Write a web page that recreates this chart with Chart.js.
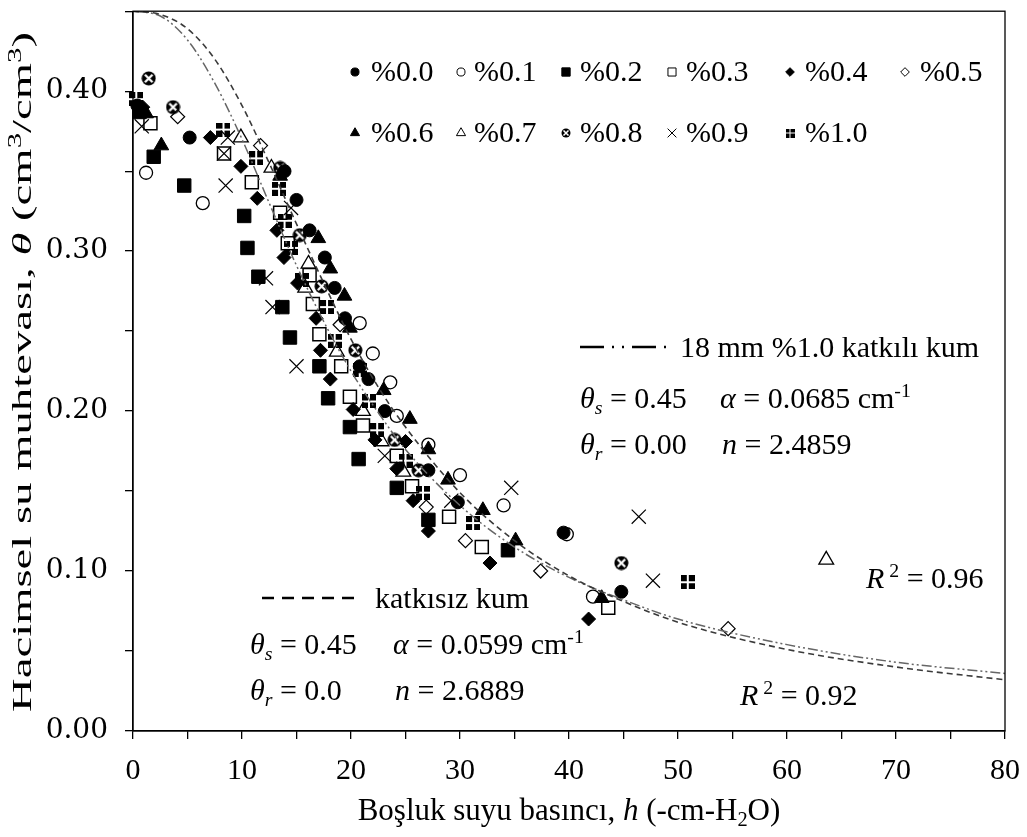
<!DOCTYPE html>
<html>
<head>
<meta charset="utf-8">
<script src="https://cdn.jsdelivr.net/npm/chart.js@4"></script>
<style>
  body { margin: 0; background: #fff; }
  .chart-container { width: 1027px; height: 837px; }
</style>
</head>
<body>
<div class="chart-container"><canvas id="myChart"></canvas></div>
<script>
// --- DATA (h in -cm-H2O, theta in cm3/cm3) ---
const seriesLabels = ['%0.0', '%0.1', '%0.2', '%0.3', '%0.4', '%0.5', '%0.6', '%0.7', '%0.8', '%0.9', '%1.0'];

const p00 = [[0.4,0.391],[5.2,0.371],[13.9,0.350],[15.0,0.332],[16.2,0.313],[17.6,0.296],[18.5,0.277],[19.45,0.258],[20.8,0.228],[21.6,0.220],[23.1,0.200],[27.1,0.163],[29.8,0.143],[39.5,0.124],[44.8,0.087]];
const p01 = [[1.2,0.349],[6.4,0.330],[20.8,0.255],[22.0,0.236],[23.6,0.218],[24.2,0.197],[27.1,0.179],[30.0,0.160],[34.0,0.141],[39.8,0.123],[42.2,0.084]];
const p02 = [[0.6,0.387],[1.9,0.359],[4.7,0.341],[10.2,0.322],[10.5,0.302],[11.5,0.284],[13.7,0.265],[14.4,0.246],[17.1,0.228],[17.9,0.208],[19.9,0.190],[20.7,0.170],[24.2,0.152],[27.1,0.132],[34.4,0.113]];
const p03 = [[1.6,0.380],[8.35,0.361],[10.9,0.343],[13.5,0.324],[14.2,0.305],[16.2,0.285],[16.5,0.267],[17.1,0.248],[19.1,0.228],[19.9,0.209],[21.1,0.191],[24.2,0.172],[25.6,0.153],[29.0,0.134],[32.0,0.115],[43.6,0.077]];
const p04 = [[0.9,0.390],[7.1,0.371],[9.9,0.353],[11.4,0.333],[13.2,0.313],[13.85,0.296],[15.1,0.280],[16.8,0.258],[17.2,0.238],[18.1,0.220],[20.2,0.201],[22.2,0.182],[25.0,0.181],[24.2,0.164],[25.7,0.144],[27.1,0.125],[32.75,0.105],[41.8,0.070]];
const p05 = [[4.1,0.384],[11.7,0.366],[19.0,0.254],[26.9,0.140],[30.5,0.119],[37.4,0.100],[54.6,0.064]];
const p06 = [[1.2,0.386],[2.6,0.366],[13.5,0.347],[17.0,0.308],[18.1,0.289],[19.4,0.272],[19.9,0.252],[23.0,0.213],[25.4,0.195],[27.1,0.176],[28.9,0.157],[32.1,0.138],[35.1,0.119],[43.0,0.083]];
const p07 = [[9.9,0.371],[12.7,0.352],[16.1,0.292],[15.8,0.277],[18.7,0.237],[21.1,0.200],[22.8,0.181],[24.8,0.162],[63.6,0.107]];
const p08 = [[1.44,0.408],[3.67,0.390],[13.5,0.352],[15.3,0.310],[17.3,0.278],[20.4,0.238],[24.0,0.182],[26.2,0.163],[44.8,0.105]];
const p09 = [[0.8,0.378],[8.7,0.371],[8.35,0.361],[8.5,0.341],[14.5,0.327],[12.2,0.283],[12.8,0.265],[15.0,0.228],[23.1,0.172],[29.2,0.144],[34.7,0.152],[46.4,0.134],[47.7,0.094]];
const p10 = [[0.3,0.395],[8.3,0.376],[11.3,0.358],[13.4,0.339],[13.9,0.319],[14.5,0.302],[15.5,0.282],[17.8,0.265],[18.5,0.244],[20.8,0.226],[21.65,0.206],[22.4,0.188],[25.0,0.169],[26.6,0.149],[31.2,0.130],[50.9,0.093]];

// fitted curves
const hCurve      = [0, 2.5, 5, 7.5, 10, 12.5, 15, 17.5, 20, 22.5, 25, 30, 35, 40, 45, 50, 60, 70, 80];
const thetaPlain  = [0.450, 0.448, 0.439, 0.420, 0.391, 0.355, 0.317, 0.280, 0.245, 0.215, 0.190, 0.149, 0.119, 0.097, 0.081, 0.068, 0.051, 0.040, 0.032];
const thetaFiber  = [0.450, 0.447, 0.432, 0.405, 0.370, 0.330, 0.291, 0.256, 0.225, 0.199, 0.176, 0.141, 0.115, 0.096, 0.082, 0.070, 0.054, 0.043, 0.036];

// --- MARKERS ---
function hatchCircle(size) {
    const c = document.createElement('canvas');
    c.width = c.height = size;
    const g = c.getContext('2d');
    const r = size / 2;
    g.fillStyle = '#000';
    g.beginPath(); g.arc(r, r, r - 0.5, 0, Math.PI * 2); g.fill();
    g.strokeStyle = '#fff';
    g.lineWidth = Math.max(1.2, size * 0.15);
    const a = size * 0.25, b = size * 0.75;
    g.beginPath(); g.moveTo(a, a); g.lineTo(b, b); g.moveTo(b, a); g.lineTo(a, b); g.stroke();
    g.fillStyle = '#fff';
    g.beginPath(); g.arc(r, r, size * 0.08, 0, Math.PI * 2); g.fill();
    return c;
}
function gridSquare(size) {
    const c = document.createElement('canvas');
    c.width = c.height = size;
    const g = c.getContext('2d');
    g.fillStyle = '#000';
    g.fillRect(0, 0, size, size);
    g.fillStyle = '#fff';
    const w = Math.max(1, Math.round(size * 0.14));
    const m = Math.round(size / 2 - w / 2);
    g.fillRect(m, 0, w, size);
    g.fillRect(0, m, size, w);
    return c;
}

const FILL = '#000', NONE = 'rgba(0,0,0,0)';
const styles = [
    { pointStyle: 'circle',    radius: 6.5, bg: FILL, bw: 1 },
    { pointStyle: 'circle',    radius: 6.5, bg: NONE, bw: 1.3 },
    { pointStyle: 'rect',      radius: 9.5, bg: FILL, bw: 1 },
    { pointStyle: 'rect',      radius: 9.2, bg: NONE, bw: 1.5 },
    { pointStyle: 'rectRot',   radius: 7,   bg: FILL, bw: 1 },
    { pointStyle: 'rectRot',   radius: 7,   bg: NONE, bw: 1.2 },
    { pointStyle: 'triangle',  radius: 8.5, bg: FILL, bw: 1 },
    { pointStyle: 'triangle',  radius: 8.5, bg: NONE, bw: 1.3 },
    { pointStyle: hatchCircle(15), radius: 7, bg: FILL, bw: 0 },
    { pointStyle: 'crossRot',  radius: 10,  bg: NONE, bw: 1.2 },
    { pointStyle: gridSquare(14), radius: 7, bg: FILL, bw: 0 }
];
const legendStyles = styles.map((s, i) => {
    if (i === 8) return { ...s, pointStyle: hatchCircle(10) };
    if (i === 10) return { ...s, pointStyle: gridSquare(9) };
    return { ...s, radius: s.radius * 0.62, bw: Math.min(s.bw, 1) };
});

const pointSets = [p00, p01, p02, p03, p04, p05, p06, p07, p08, p09, p10];
const toXY = (arr) => arr.map(([x, y]) => ({ x, y }));

const datasets = [
    {
        type: 'line', label: 'katkısız kum',
        data: hCurve.map((h, i) => ({ x: h, y: thetaPlain[i] })),
        borderColor: '#3a3a3a', borderWidth: 1.6, borderDash: [6, 4],
        pointRadius: 0, cubicInterpolationMode: 'monotone', fill: false
    },
    {
        type: 'line', label: '18 mm %1.0 katkılı kum',
        data: hCurve.map((h, i) => ({ x: h, y: thetaFiber[i] })),
        borderColor: '#666', borderWidth: 1.5, borderDash: [10, 3, 2, 3, 2, 3],
        pointRadius: 0, cubicInterpolationMode: 'monotone', fill: false
    }
];
pointSets.forEach((pts, i) => {
    const s = styles[i];
    datasets.push({
        type: 'scatter', label: seriesLabels[i],
        data: toXY(pts),
        pointStyle: s.pointStyle, pointRadius: s.radius, pointHoverRadius: s.radius,
        backgroundColor: s.bg, borderColor: '#000', borderWidth: s.bw,
        clip: false
    });
});

// --- TEXT HELPERS ---
const SERIF = '"Liberation Serif", "Times New Roman", serif';
function rich(ctx, x, y, parts, size) {
    let cx = x;
    ctx.textAlign = 'left';
    ctx.textBaseline = 'alphabetic';
    for (const p of parts) {
        const small = p.sub || p.sup;
        const fs = small ? size * 0.66 : size;
        ctx.font = (p.i ? 'italic ' : '') + fs + 'px ' + SERIF;
        const dy = p.sub ? size * 0.2 : (p.sup ? -size * 0.36 : 0);
        ctx.fillText(p.t, cx, y + dy);
        cx += ctx.measureText(p.t).width;
    }
    return cx;
}
function richWidth(ctx, parts, size) {
    let w = 0;
    for (const p of parts) {
        const fs = (p.sub || p.sup) ? size * 0.66 : size;
        ctx.font = (p.i ? 'italic ' : '') + fs + 'px ' + SERIF;
        w += ctx.measureText(p.t).width;
    }
    return w;
}

// --- PLUGIN: frame, legend, annotations, axis titles ---
const decor = {
    id: 'decor',
    afterDraw(chart) {
        const ctx = chart.ctx;
        const ca = chart.chartArea;
        ctx.save();
        ctx.strokeStyle = '#000';
        ctx.lineWidth = 1.3;
        ctx.strokeRect(ca.left, ca.top, ca.right - ca.left, ca.bottom - ca.top);

        // legend (two rows inside the plot)
        const colMarker = [355, 461, 566, 672, 790, 905];
        const colText   = [371, 474, 580, 686, 805, 920];
        const rowY = [72, 133];
        seriesLabels.forEach((lab, i) => {
            const row = i < 6 ? 0 : 1, col = i < 6 ? i : i - 6;
            const s = legendStyles[i];
            ctx.fillStyle = s.bg;
            ctx.strokeStyle = '#000';
            ctx.lineWidth = s.bw;
            Chart.helpers.drawPoint(ctx, { pointStyle: s.pointStyle, radius: s.radius, borderWidth: s.bw, rotation: 0 }, colMarker[col], rowY[row]);
            ctx.fillStyle = '#000';
            ctx.font = '30px ' + SERIF;
            ctx.textAlign = 'left';
            ctx.textBaseline = 'middle';
            ctx.fillText(lab, colText[col], rowY[row] + 1);
        });

        ctx.fillStyle = '#000';
        const fs = 30;
        // fibre-reinforced curve block
        ctx.strokeStyle = '#000';
        ctx.lineWidth = 2.5;
        ctx.setLineDash([24, 8, 2, 8, 2, 8]);
        ctx.beginPath(); ctx.moveTo(580, 347); ctx.lineTo(670, 347); ctx.stroke();
        ctx.setLineDash([]);
        rich(ctx, 680, 357, [{ t: '18 mm %1.0 katkılı kum' }], fs);
        rich(ctx, 580, 408, [{ t: 'θ', i: 1 }, { t: 's', i: 1, sub: 1 }, { t: ' = 0.45' }], fs);
        rich(ctx, 720, 408, [{ t: 'α', i: 1 }, { t: ' = 0.0685 cm' }, { t: '-1', sup: 1 }], fs);
        rich(ctx, 580, 454, [{ t: 'θ', i: 1 }, { t: 'r', i: 1, sub: 1 }, { t: ' = 0.00' }], fs);
        rich(ctx, 722, 454, [{ t: 'n', i: 1 }, { t: ' = 2.4859' }], fs);
        rich(ctx, 866, 588, [{ t: 'R', i: 1 }, { t: ' 2', sup: 1 }, { t: ' = 0.96' }], fs);

        // plain sand block
        ctx.lineWidth = 2.5;
        ctx.setLineDash([12, 8]);
        ctx.beginPath(); ctx.moveTo(262, 598); ctx.lineTo(356, 598); ctx.stroke();
        ctx.setLineDash([]);
        rich(ctx, 375, 608, [{ t: 'katkısız kum' }], fs);
        rich(ctx, 250, 654, [{ t: 'θ', i: 1 }, { t: 's', i: 1, sub: 1 }, { t: ' = 0.45' }], fs);
        rich(ctx, 393, 654, [{ t: 'α', i: 1 }, { t: ' = 0.0599 cm' }, { t: '-1', sup: 1 }], fs);
        rich(ctx, 250, 700, [{ t: 'θ', i: 1 }, { t: 'r', i: 1, sub: 1 }, { t: ' = 0.0' }], fs);
        rich(ctx, 395, 700, [{ t: 'n', i: 1 }, { t: ' = 2.6889' }], fs);
        rich(ctx, 740, 705, [{ t: 'R', i: 1 }, { t: ' 2', sup: 1 }, { t: ' = 0.92' }], fs);

        // x axis title
        const xParts = [{ t: 'Boşluk suyu basıncı, ' }, { t: 'h', i: 1 }, { t: ' (-cm-H' }, { t: '2', sub: 1 }, { t: 'O)' }];
        const xw = richWidth(ctx, xParts, 31);
        rich(ctx, (ca.left + ca.right) / 2 - xw / 2, 820, xParts, 31);

        // y axis title (rotated, stretched along its length)
        const yParts = [{ t: 'Hacimsel su muhtevası, ' }, { t: 'θ', i: 1 }, { t: ' (cm' }, { t: '3', sup: 1 }, { t: '/cm' }, { t: '3', sup: 1 }, { t: ')' }];
        const yw = richWidth(ctx, yParts, 27);
        ctx.save();
        ctx.translate(31, 372);
        ctx.rotate(-Math.PI / 2);
        ctx.scale(680 / yw, 1);
        rich(ctx, -yw / 2, 0, yParts, 27);
        ctx.restore();
        ctx.restore();
    }
};

// --- CHART ---
const ctx = document.getElementById('myChart').getContext('2d');
new Chart(ctx, {
    data: { datasets },
    options: {
        responsive: true,
        maintainAspectRatio: false,
        animation: false,
        layout: { padding: { left: 0, top: 8, right: 22, bottom: 0 } },
        plugins: { legend: { display: false }, tooltip: { enabled: false } },
        scales: {
            x: {
                type: 'linear', min: 0, max: 80,
                afterFit: (s) => { s.height = 106; s.paddingLeft = 0; s.paddingRight = 0; },
                border: { color: '#000', width: 1.3 },
                grid: { drawOnChartArea: false, drawTicks: true, tickLength: 8, color: '#000', lineWidth: 1.3 },
                ticks: {
                    stepSize: 5, autoSkip: false, maxRotation: 0, padding: 14, color: '#000',
                    font: { family: SERIF, size: 30 },
                    callback: (v) => (v % 10 === 0 ? String(v) : '')
                }
            },
            y: {
                type: 'linear', min: 0, max: 0.45,
                afterFit: (s) => { s.width = 133; s.paddingTop = 0; s.paddingBottom = 0; },
                border: { color: '#000', width: 1.3 },
                grid: { drawOnChartArea: false, drawTicks: true, tickLength: 8, color: '#000', lineWidth: 1.3 },
                ticks: {
                    stepSize: 0.05, autoSkip: false, padding: 17, color: '#000',
                    font: { family: '"DejaVu Serif", serif', size: 28 },
                    callback: (v) => {
                        const k = Math.round(v * 20);
                        return (k % 2 === 0 && k < 9) ? (k / 20).toFixed(2) : '';
                    }
                }
            }
        }
    },
    plugins: [decor]
});
</script>
</body>
</html>
